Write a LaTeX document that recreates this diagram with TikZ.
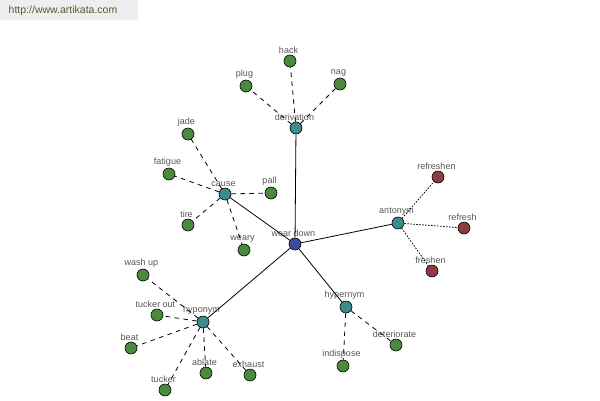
\documentclass[tikz,border=0pt]{standalone}
\usepackage{fontspec}
\setmainfont{Liberation Sans}
\usetikzlibrary{arrows}
\definecolor{hubblue}{HTML}{3E4C98}
\definecolor{relteal}{HTML}{3C8C8E}
\definecolor{leafgreen}{HTML}{4A8A3E}
\definecolor{oppred}{HTML}{8C3C40}
\definecolor{labelgray}{HTML}{555555}
\definecolor{sitegreen}{HTML}{4F5F2A}

\begin{document}
\begin{tikzpicture}[x=1pt,y=-1pt,line width=0.8pt,
                    every label/.style={text=labelgray,font=\fontsize{9}{10}\selectfont,
                                        inner sep=1pt,label distance=0pt,xshift=-1.5pt}]
  \tikzstyle{word}=[circle,draw=black,line width=0.6pt,minimum size=12pt,inner sep=0pt]
  \tikzstyle{hub}=[word,fill=hubblue]
  \tikzstyle{rel}=[word,fill=relteal]
  \tikzstyle{leaf}=[word,fill=leafgreen]
  \tikzstyle{opp}=[word,fill=oppred]
  \tikzstyle{sub}=[dash pattern=on 4.5pt off 4.5pt]
  \tikzstyle{contra}=[dash pattern=on 1.5pt off 1.5pt]

  \useasboundingbox (0,0) rectangle (600,400);
  \fill[gray!13] (0,0) rectangle (138,20);
  \node[anchor=west,text=sitegreen,font=\fontsize{10.5}{11}\selectfont] (site) at (5,11) {http://www.artikata.com};

  % centre and relations
  \node[hub,label=above:{wear down}]  (wear)   at (295,244) {};
  \node[rel,label=above:{derivation}] (deriv)  at (296,128) {};
  \node[rel,label=above:{cause}]      (cause)  at (225,194) {};
  \node[rel,label=above:{antonym}]    (anton)  at (398,223) {};
  \node[rel,label=above:{hyponym}]    (hypo)   at (203,322) {};
  \node[rel,label=above:{hypernym}]   (hyper)  at (346,307) {};

  % leaves
  \node[leaf,label=above:{hack}]       (hack)    at (290,61)  {};
  \node[leaf,label=above:{plug}]       (plug)    at (246,86)  {};
  \node[leaf,label=above:{nag}]        (nag)     at (340,84)  {};
  \node[leaf,label=above:{jade}]       (jade)    at (188,134) {};
  \node[leaf,label=above:{fatigue}]    (fatigue) at (169,174) {};
  \node[leaf,label=above:{pall}]       (pall)    at (271,193) {};
  \node[leaf,label=above:{tire}]       (tire)    at (188,225) {};
  \node[leaf,label=above:{weary}]      (weary)   at (244,250) {};
  \node[opp,label=above:{refreshen}]   (rfshn)   at (438,177) {};
  \node[opp,label=above:{refresh}]     (rfsh)    at (464,228) {};
  \node[opp,label=above:{freshen}]     (frshn)   at (432,271) {};
  \node[leaf,label=above:{wash up}]    (wash)    at (143,275) {};
  \node[leaf,label=above:{tucker out}] (tout)    at (157,315) {};
  \node[leaf,label=above:{beat}]       (beat)    at (131,348) {};
  \node[leaf,label=above:{tucker}]     (tucker)  at (165,390) {};
  \node[leaf,label=above:{ablate}]     (ablate)  at (206,373) {};
  \node[leaf,label=above:{exhaust}]    (exhaust) at (250,375) {};
  \node[leaf,label=above:{deteriorate}] (deter)  at (396,345) {};
  \node[leaf,label=above:{indispose}]  (indisp)  at (343,366) {};

  \path (wear) edge (deriv)
        (wear) edge (cause)
        (wear) edge (anton)
        (wear) edge (hypo)
        (wear) edge (hyper);

  \path[sub] (deriv) edge (hack) edge (plug) edge (nag)
        (cause) edge (jade) edge (fatigue) edge (pall) edge (tire) edge (weary)
        (hypo) edge (wash) edge (tout) edge (beat) edge (tucker) edge (ablate) edge (exhaust)
        (hyper) edge (deter) edge (indisp);

  \path[contra] (anton) edge (rfshn) edge (rfsh) edge (frshn);
\end{tikzpicture}
\end{document}
